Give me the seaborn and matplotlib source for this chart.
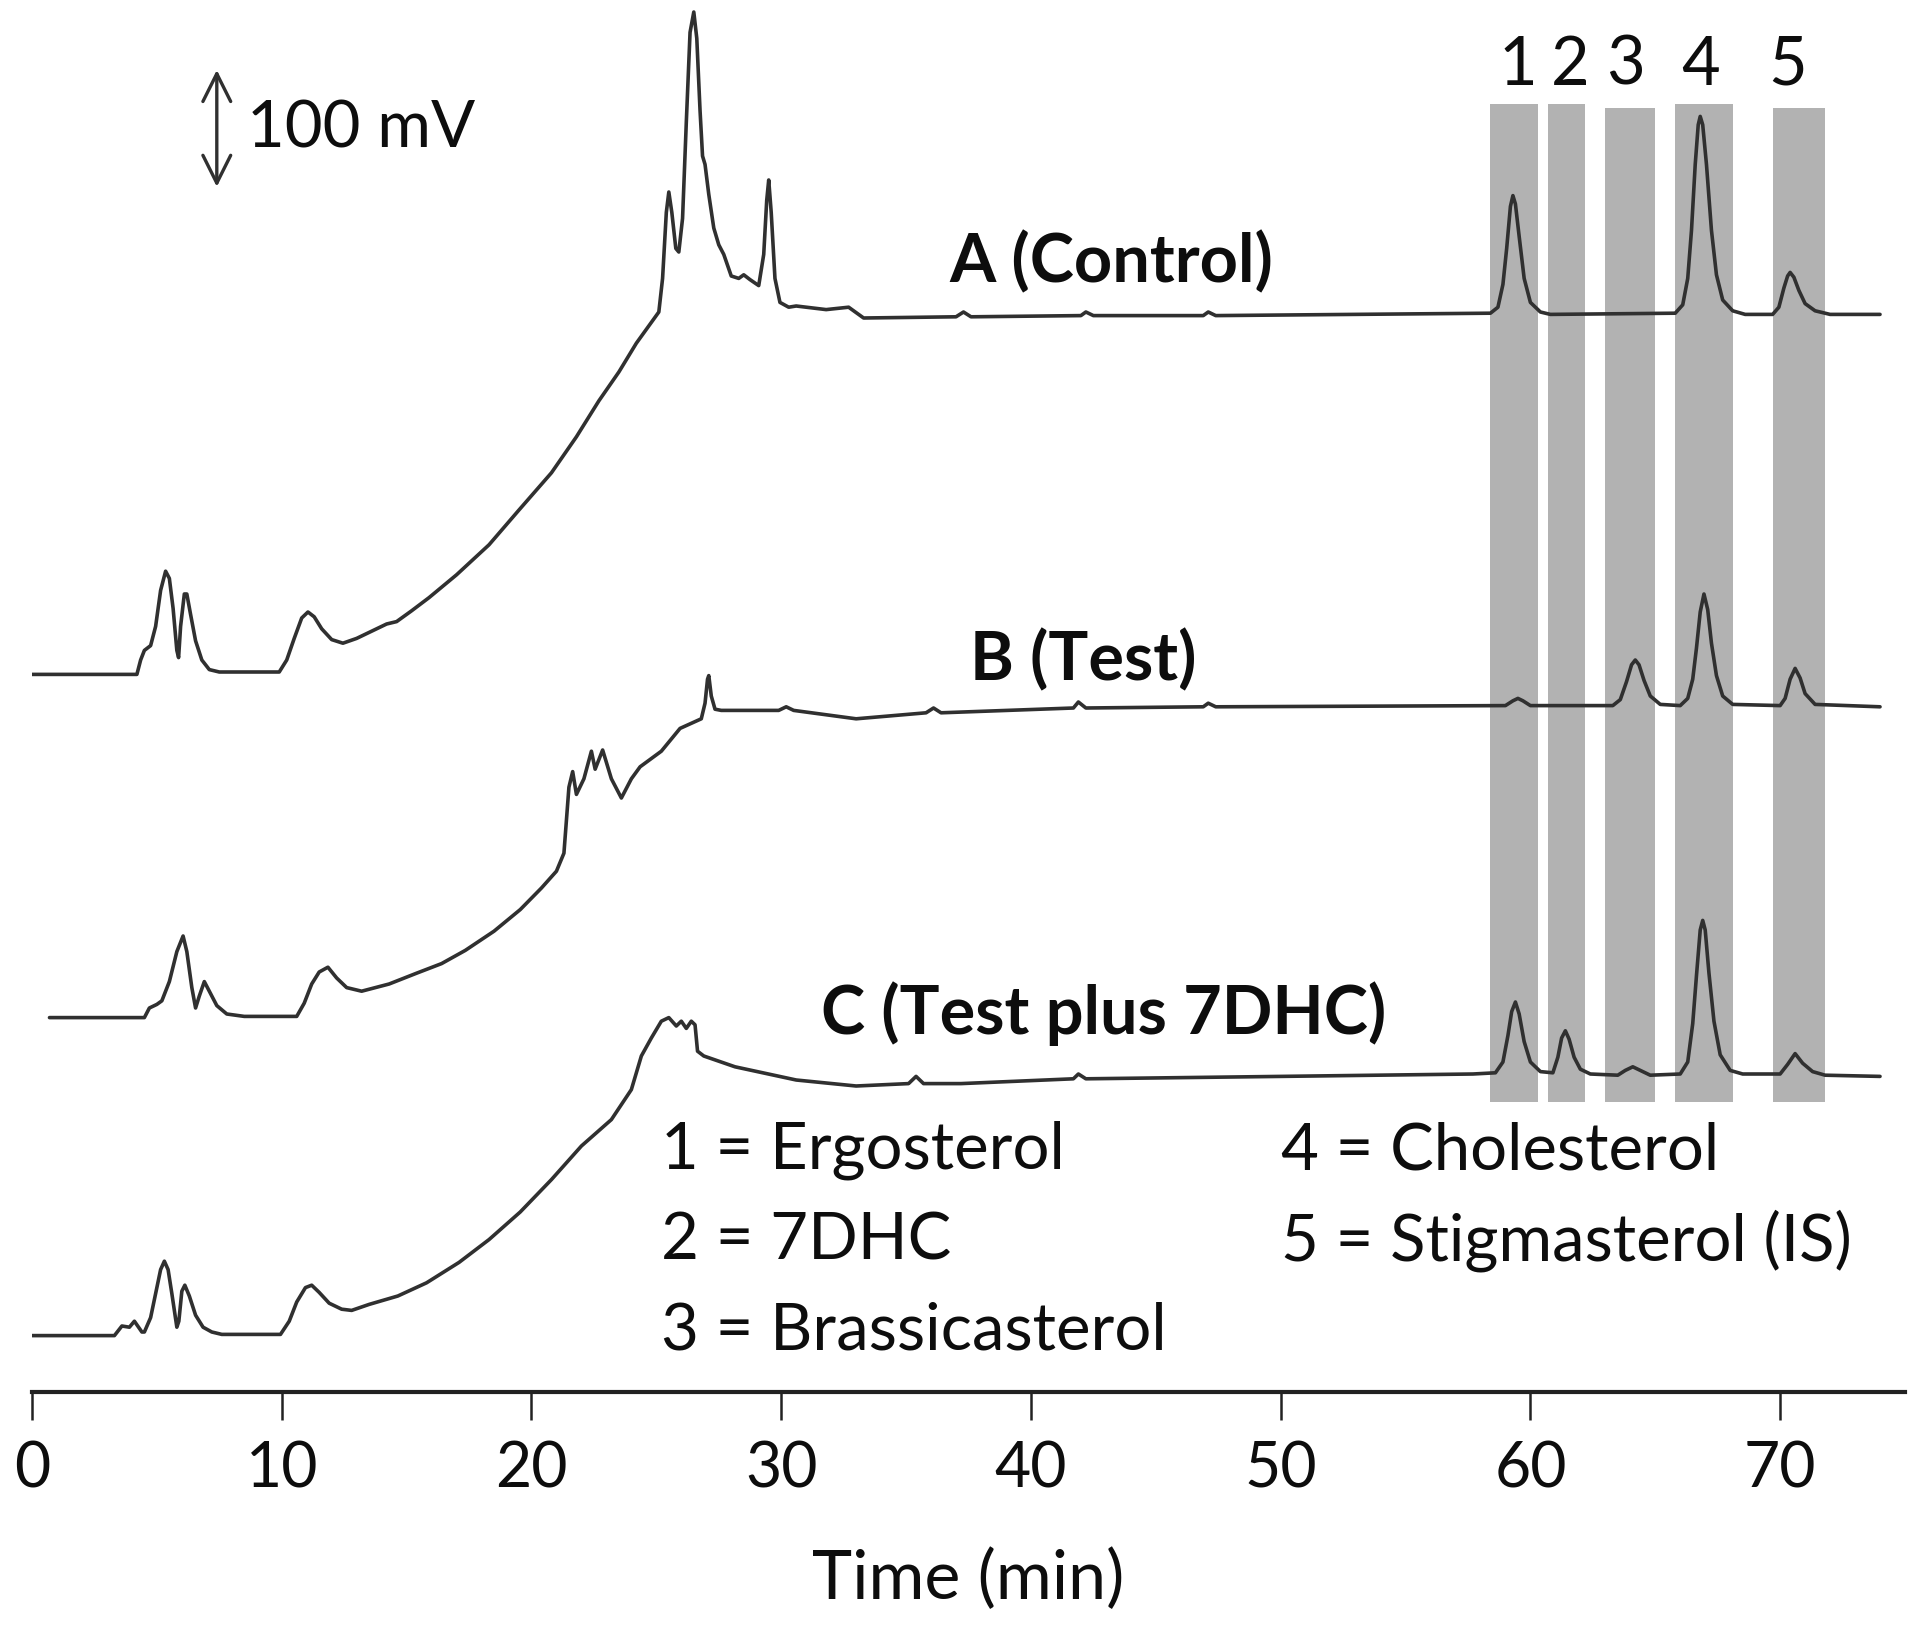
import numpy as np
import pandas as pd
import matplotlib
matplotlib.use('Agg')
import matplotlib.pyplot as plt
import seaborn as sns

# GC chromatograms, signal in mV above each trace's starting baseline
time_a = [0, 4.2, 4.35, 4.5, 4.75, 4.95, 5.15, 5.35, 5.5, 5.65, 5.8, 5.87, 5.95, 6.1, 6.2, 6.35, 6.55, 6.8, 7.1,
          7.5, 9.9, 10.2, 10.5, 10.8, 11.05, 11.3, 11.6, 12.0, 12.45, 13.0, 13.6, 14.2, 14.6, 15.2, 15.9, 17.0,
          18.3, 19.5, 20.8, 21.8, 22.7, 23.5, 24.2, 25.1, 25.25, 25.4, 25.5, 25.62, 25.78, 25.9, 26.05, 26.2,
          26.35, 26.5, 26.62, 26.75, 26.85, 26.95, 27.1, 27.3, 27.5, 27.7, 28.0, 28.3, 28.5, 28.75, 29.1, 29.3,
          29.42, 29.5, 29.6, 29.75, 29.95, 30.3, 30.6, 31.8, 32.7, 33.3, 37.0, 37.3, 37.6, 42.0, 42.2, 42.5, 46.9,
          47.1, 47.4, 58.4, 58.7, 58.9, 59.05, 59.2, 59.3, 59.4, 59.55, 59.75, 60.0, 60.4, 60.8, 65.8, 66.1,
          66.3, 66.45, 66.6, 66.72, 66.8, 66.9, 67.05, 67.25, 67.45, 67.7, 68.1, 68.6, 69.7, 69.95, 70.15, 70.3,
          70.4, 70.55, 70.75, 71.0, 71.4, 72.0, 74.0]
signal_a = [0, 0, 12, 20, 24, 40, 70, 86, 80, 55, 20, 14, 40, 67, 67, 50, 28, 12, 4, 2, 2, 12, 30, 47, 52, 48,
            38, 29, 26, 30, 36, 42, 44, 53, 64, 83, 108, 137, 168, 198, 228, 252, 276, 302, 330, 385, 402, 385,
            355, 352, 380, 460, 535, 552, 530, 470, 432, 425, 400, 372, 358, 350, 332, 330, 333, 329, 324, 350,
            395, 412, 385, 330, 310, 306, 307, 304, 306, 297, 298, 302, 298, 299, 302, 299, 299, 302, 299, 301,
            306, 325, 355, 390, 399, 392, 365, 330, 310, 302, 300, 301, 308, 330, 370, 425, 458, 465, 458, 425,
            370, 333, 312, 303, 300, 300, 306, 322, 332, 335, 331, 320, 309, 303, 300, 300]

time_b = [0.7, 4.5, 4.7, 5.0, 5.2, 5.5, 5.8, 6.05, 6.2, 6.4, 6.55, 6.7, 6.9, 7.1, 7.4, 7.8, 8.5, 10.6, 10.9, 11.2,
          11.5, 11.85, 12.2, 12.6, 13.2, 14.3, 15.4, 16.4, 17.35, 18.5, 19.55, 20.4, 21.0, 21.3, 21.5, 21.65,
          21.8, 22.1, 22.4, 22.55, 22.85, 23.2, 23.6, 24.0, 24.35, 25.2, 25.95, 26.8, 26.95, 27.05, 27.1, 27.2,
          27.35, 27.6, 29.9, 30.2, 30.5, 33.0, 35.8, 36.1, 36.4, 41.7, 41.9, 42.2, 46.9, 47.1, 47.4, 59.0, 59.3,
          59.5, 59.7, 60.0, 63.3, 63.6, 63.85, 64.05, 64.2, 64.35, 64.55, 64.8, 65.2, 66.0, 66.3, 66.5, 66.65,
          66.8, 66.95, 67.1, 67.25, 67.45, 67.7, 68.1, 70.0, 70.2, 70.4, 70.6, 70.8, 71.0, 71.4, 74.0]
signal_b = [0, 0, 8, 11, 14, 30, 55, 68, 55, 25, 8, 18, 30, 22, 10, 3, 1, 1, 12, 28, 38, 42, 33, 25, 22, 28, 37,
            45, 56, 72, 90, 108, 122, 137, 192, 205, 186, 199, 222, 207, 223, 199, 183, 199, 209, 222, 241, 249,
            262, 282, 285, 268, 257, 256, 256, 259, 256, 249, 254, 258, 254, 258, 263, 258, 259, 262, 259, 260,
            264, 266, 264, 260, 260, 265, 280, 294, 298, 294, 281, 268, 261, 260, 266, 282, 308, 338, 353, 340,
            312, 285, 268, 261, 260, 266, 282, 291, 283, 270, 261, 259]

time_c = [0, 3.3, 3.6, 3.9, 4.1, 4.4, 4.5, 4.75, 4.95, 5.15, 5.3, 5.45, 5.6, 5.8, 5.88, 6.0, 6.12, 6.3, 6.55, 6.85,
          7.2, 7.6, 9.95, 10.3, 10.6, 10.95, 11.2, 11.5, 11.9, 12.4, 12.8, 13.5, 14.65, 15.8, 17.1, 18.3, 19.55,
          20.8, 22.0, 23.2, 24.0, 24.4, 24.8, 25.2, 25.5, 25.8, 26.0, 26.2, 26.4, 26.55, 26.65, 26.9, 28.15, 30.6,
          33.0, 35.1, 35.4, 35.7, 37.2, 41.7, 41.9, 42.2, 50.0, 57.7, 58.6, 58.9, 59.1, 59.25, 59.4, 59.55, 59.75,
          60.0, 60.4, 60.9, 61.1, 61.25, 61.4, 61.55, 61.75, 62.0, 62.4, 63.5, 63.8, 64.1, 64.4, 64.8, 66.0, 66.3,
          66.5, 66.65, 66.8, 66.9, 67.0, 67.15, 67.35, 67.6, 68.0, 68.5, 70.0, 70.3, 70.6, 70.9, 71.3, 71.8, 74.0]
signal_c = [0, 0, 8, 7, 12, 3, 3, 15, 35, 55, 62, 55, 35, 7, 12, 37, 42, 33, 17, 7, 3, 1, 1, 12, 28, 40, 42, 36,
            27, 22, 21, 26, 33, 44, 61, 80, 103, 130, 158, 180, 205, 233, 248, 262, 265, 258, 262, 256, 262, 259,
            237, 233, 224, 213, 208, 210, 216, 210, 210, 214, 218, 214, 216, 218, 219, 228, 250, 270, 278, 268,
            245, 228, 220, 219, 232, 248, 254, 247, 232, 222, 218, 217, 221, 224, 221, 217, 218, 228, 260, 300,
            338, 346, 338, 302, 262, 234, 221, 218, 218, 226, 235, 227, 220, 217, 216]

trace_names = ['A (Control)', 'B (Test)', 'C (Test plus 7DHC)']
trace_offsets = [598, 312, 47]  # stacking offset of each trace, mV
label_pos = [(43.2, 942), (42.1, 610), (42.9, 316)]

band_edges = [(58.4, 60.3), (60.7, 62.2), (63.0, 65.0), (65.8, 68.1), (69.7, 71.8)]
band_top = [1073, 1073, 1070, 1073, 1070]
band_bottom = 242
band_labels = ['1', '2', '3', '4', '5']
band_label_x = [59.5, 61.6, 63.8, 66.8, 70.3]

compound_left = ['1 = Ergosterol', '2 = 7DHC', '3 = Brassicasterol']
compound_right = ['4 = Cholesterol', '5 = Stigmasterol (IS)']

frames = []
for name, t, s, off in zip(trace_names, [time_a, time_b, time_c], [signal_a, signal_b, signal_c], trace_offsets):
    frames.append(pd.DataFrame({'time': t, 'mv': np.array(s) + off, 'trace': name}))
df = pd.concat(frames, ignore_index=True)

sns.set_theme(style='white')
plt.rcParams['font.family'] = ['Lato', 'DejaVu Sans']
line_col = '#303030'
txt_col = '#0d0d0d'

fig = plt.figure(figsize=(19.2, 16.33), dpi=100)
ax = fig.add_axes([32 / 1920, 1 - 1393 / 1633, 1873 / 1920, 1393 / 1633])

# shaded peak windows
for (x0, x1), top in zip(band_edges, band_top):
    ax.fill_between([x0, x1], band_bottom, top, color='#b2b2b2', lw=0, zorder=1)
for lab, x in zip(band_labels, band_label_x):
    ax.text(x, 1106, lab, ha='center', va='center', fontsize=48, color=txt_col)

for name in trace_names:
    sns.lineplot(data=df[df['trace'] == name], x='time', y='mv', sort=False, estimator=None,
                 color=line_col, lw=2.6, ax=ax, zorder=3)

for name, (x, y) in zip(trace_names, label_pos):
    ax.text(x, y, name, ha='center', va='center', fontsize=48, fontweight='bold', color=txt_col)

# 100 mV scale bar
ax.annotate('', xy=(7.4, 1104), xytext=(7.4, 1002),
            arrowprops=dict(arrowstyle='<->', lw=2.4, color=line_col, mutation_scale=50))
ax.text(8.6, 1053, '100 mV', ha='left', va='center', fontsize=47, color=txt_col)

for i, txt in enumerate(compound_left):
    ax.text(25.2, 202 - i * 75, txt, ha='left', va='center', fontsize=47, color=txt_col)
for i, txt in enumerate(compound_right):
    ax.text(50.0, 202 - i * 75, txt, ha='left', va='center', fontsize=47, color=txt_col)

ax.set_xlim(0, 75)
ax.set_ylim(0, 1393 / 1.2)
ax.set_xticks(range(0, 80, 10))
ax.set_yticks([])
ax.set_xlabel('Time (min)', fontsize=49, color=txt_col, labelpad=36)
ax.set_ylabel('')
for sp in ['left', 'top', 'right']:
    ax.spines[sp].set_visible(False)
ax.spines['bottom'].set_linewidth(3)
ax.spines['bottom'].set_color('#222222')
ax.tick_params(axis='x', direction='out', length=20, width=1.8, color='#222222',
               labelsize=45, pad=14, labelcolor=txt_col, bottom=True)
ax.patch.set_alpha(0)

fig.savefig('out.png', dpi=100)
